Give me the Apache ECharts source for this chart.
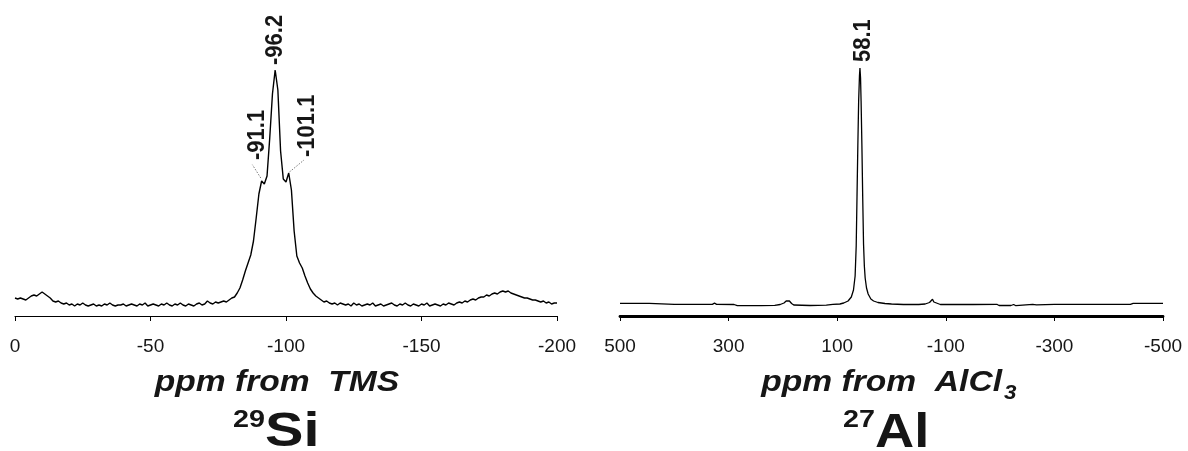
<!DOCTYPE html>
<html>
<head>
<meta charset="utf-8">
<script src="https://cdn.jsdelivr.net/npm/echarts@6/dist/echarts.min.js"></script>
<style>
html,body{margin:0;padding:0;background:#fff;}
#c{width:1188px;height:451px;}
</style>
</head>
<body>
<div id="c"></div>
<script>
// ---- 29Si spectrum: intensity sampled every 1 ppm from 0 to -200 ----
const siStartPpm = 0;
const siStepPpm = -1;
const siIntensity = [
  18,17,18,17,16,18,20,21,20,22,24,22,20,18,15,14,15,13,12,13,11,
  12,10,12,11,13,11,10,11,12,10,11,10,12,11,13,11,10,11,11,12,
  10,11,12,11,10,12,11,13,10,11,12,11,10,12,11,13,11,10,12,11,
  13,11,10,12,11,10,12,13,11,12,15,13,12,14,13,14,15,14,16,18,
  19,23,28,36,45,53,61,75,98,122,135,132,140,178,222,246,226,165,137,134,
  143,126,85,60,53,48,40,33,27,23,20,18,16,14,15,13,12,13,11,13,
  12,11,12,10,13,11,12,10,11,12,11,13,10,11,12,10,11,12,13,11,
  10,12,11,13,11,10,12,11,10,12,11,13,10,11,12,11,10,12,11,13,
  12,11,13,14,13,15,14,16,17,16,18,19,19,21,20,22,23,22,24,25,
  24,25,23,22,21,20,19,18,18,17,16,16,15,14,15,13,14,12,13,13
];
const siTicks = [0, -50, -100, -150, -200];
const siPeakPpm = [-91.1, -96.2, -101.1];
const siPeakInt = [135, 246, 143];
const siPeakText = ['-91.1', '-96.2', '-101.1'];

// ---- 27Al spectrum ----
const alPpm = [500,470,446,444,400,330,326,322,290,284,240,215,205,198,194,191,188,184,180,150,120,108,95,88,80,74,70,67,65,63.5,62,60.5,59,58.1,57,56,54.5,53,51.5,50,48.5,46,43,38,33,25,12,0,-22,-50,-62,-70,-73,-75.5,-78,-81,-90,-150,-194,-198,-220,-225,-229,-232,-260,-267,-300,-440,-445,-500];
const alInt = [12.7,12.7,12.7,11.7,11.7,11.7,12.8,11.7,11.5,10.3,10.3,10.6,11.5,13,15,16.7,15,12.5,11,10.5,10.8,11.7,12,13,15,19,26,40,70,120,170,215,240,248,238,215,170,118,72,50,38,28,22,17,15,13.5,12.5,12,11.5,11.5,12,13.5,15,16.7,14,12,11.5,11.5,11.7,10.5,10.5,11.5,10.3,11.7,11.7,11.2,11.7,11.7,12.7,12.7];
const alTicks = [500, 300, 100, -100, -300, -500];
const alPeakPpm = [58.1];
const alPeakInt = [248];
const alPeakText = ['58.1'];

// ---- build series data ----
const siData = siIntensity.map((v, i) => [siStartPpm + i * siStepPpm, v]);
const alData = alPpm.map((p, i) => [p, alInt[i]]);

const FONT = '"Liberation Sans", Arial, Helvetica, sans-serif';
const TXT = '#161616';

function xAxisCfg(grid, min, max, ticks, lineWidth) {
  return {
    gridIndex: grid, type: 'value', min: min, max: max, inverse: true,
    axisLine: { show: true, onZero: false, lineStyle: { color: '#000', width: lineWidth } },
    axisTick: { show: true, length: 5, customValues: ticks, lineStyle: { color: '#000', width: 1 } },
    axisLabel: { customValues: ticks, fontSize: 19, color: TXT, fontFamily: FONT, margin: 21 },
    splitLine: { show: false }
  };
}

const chart = echarts.init(document.getElementById('c'), null, { renderer: 'canvas' });
chart.setOption({
  animation: false,
  backgroundColor: '#fff',
  grid: [
    { left: 15, top: 66, width: 542, height: 250, containLabel: false },
    { left: 620, top: 66, width: 543, height: 250, containLabel: false }
  ],
  xAxis: [
    xAxisCfg(0, -200, 0, siTicks, 1.2),
    xAxisCfg(1, -500, 500, alTicks, 2.8)
  ],
  yAxis: [
    { gridIndex: 0, type: 'value', min: 0, max: 250, show: false },
    { gridIndex: 1, type: 'value', min: 0, max: 250, show: false }
  ],
  series: [
    { type: 'line', xAxisIndex: 0, yAxisIndex: 0, data: siData, showSymbol: false, smooth: false,
      lineStyle: { color: '#000', width: 1.4 } },
    { type: 'line', xAxisIndex: 1, yAxisIndex: 1, data: alData, showSymbol: false, smooth: false,
      lineStyle: { color: '#000', width: 1.3 } }
  ]
});

// ---- peak annotations, anchored through the axis scales ----
const labelOffset = { '-91.1': [-4.6, -21], '-96.2': [0, -5], '-101.1': [18.4, -16], '58.1': [3.5, -6] };
const leaderOffset = { '-91.1': [[-1.1, -3], [-9.5, -16.3]], '-101.1': [[0.5, -1], [15, -13]] };
const graphics = [];
function annotate(gridIndex, ppm, ints, texts) {
  ppm.forEach((p, i) => {
    const px = chart.convertToPixel({ gridIndex: gridIndex }, [p, ints[i]]);
    const o = labelOffset[texts[i]];
    graphics.push({
      type: 'text', x: px[0] + o[0], y: px[1] + o[1], rotation: Math.PI / 2, scaleY: 1.1, silent: true,
      style: { text: texts[i], font: 'bold 22px ' + FONT, fill: TXT, align: 'left', verticalAlign: 'middle' }
    });
    const l = leaderOffset[texts[i]];
    if (l) {
      graphics.push({
        type: 'line', silent: true,
        shape: { x1: px[0] + l[0][0], y1: px[1] + l[0][1], x2: px[0] + l[1][0], y2: px[1] + l[1][1] },
        style: { stroke: '#555', lineWidth: 0.8, lineDash: [1.5, 1.5] }
      });
    }
  });
}
annotate(0, siPeakPpm, siPeakInt, siPeakText);
annotate(1, alPeakPpm, alPeakInt, alPeakText);

// ---- axis titles and nucleus labels ----
graphics.push(
  { type: 'text', x: 277, y: 383, scaleX: 1.12, silent: true, style: { text: 'ppm from  TMS', font: 'italic bold 30px ' + FONT, fill: TXT, align: 'center', verticalAlign: 'middle' } },
  { type: 'text', x: 265, y: 420.5, scaleX: 1.25, silent: true, style: { text: '29', font: 'bold 23px ' + FONT, fill: TXT, align: 'right', verticalAlign: 'middle' } },
  { type: 'text', x: 265, y: 433, scaleX: 1.2, silent: true, style: { text: 'Si', font: 'bold 48px ' + FONT, fill: TXT, align: 'left', verticalAlign: 'middle' } },
  { type: 'text', x: 1002, y: 383, scaleX: 1.12, silent: true, style: { text: 'ppm from  AlCl', font: 'italic bold 30px ' + FONT, fill: TXT, align: 'right', verticalAlign: 'middle' } },
  { type: 'text', x: 1004, y: 393, scaleX: 1.12, silent: true, style: { text: '3', font: 'italic bold 20px ' + FONT, fill: TXT, align: 'left', verticalAlign: 'middle' } },
  { type: 'text', x: 875, y: 420.5, scaleX: 1.25, silent: true, style: { text: '27', font: 'bold 23px ' + FONT, fill: TXT, align: 'right', verticalAlign: 'middle' } },
  { type: 'text', x: 875, y: 434, scaleX: 1.13, silent: true, style: { text: 'Al', font: 'bold 48px ' + FONT, fill: TXT, align: 'left', verticalAlign: 'middle' } }
);
chart.setOption({ graphic: graphics });
</script>
</body>
</html>
